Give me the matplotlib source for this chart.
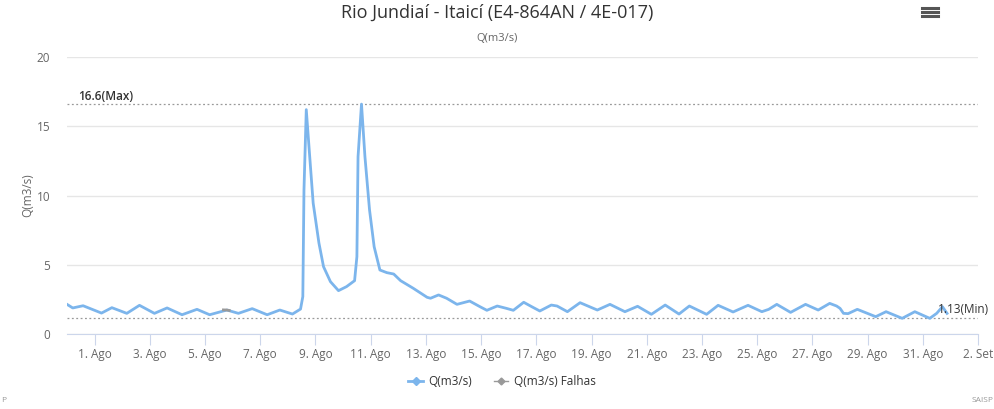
import numpy as np
import pandas as pd
import matplotlib
matplotlib.use("Agg")
import matplotlib.pyplot as plt
import matplotlib.dates as mdates
from matplotlib.lines import Line2D

plt.rcParams['font.family'] = ['Liberation Sans Narrow', 'Open Sans', 'DejaVu Sans']

# Vazão observada (m3/s)
times = [
    "07-31 00", "07-31 05", "07-31 14", "08-01 06", "08-01 15", "08-02 04", "08-02 15",
    "08-03 04", "08-03 15", "08-04 04", "08-04 17", "08-05 04", "08-05 19", "08-06 05",
    "08-06 17", "08-07 06", "08-07 17", "08-08 04", "08-08 11", "08-08 13", "08-08 14",
    "08-08 16", "08-08 19", "08-08 22", "08-09 03", "08-09 07", "08-09 13", "08-09 20",
    "08-10 03", "08-10 10", "08-10 12", "08-10 13", "08-10 16", "08-10 19", "08-10 23",
    "08-11 03", "08-11 08", "08-11 14", "08-11 20", "08-12 02", "08-12 13", "08-13 01",
    "08-13 04", "08-13 11", "08-13 18", "08-14 03", "08-14 14", "08-14 23", "08-15 05",
    "08-15 14", "08-15 22", "08-16 04", "08-16 13", "08-16 20", "08-17 03", "08-17 13",
    "08-17 18", "08-18 03", "08-18 14", "08-19 05", "08-19 16", "08-20 05", "08-20 16",
    "08-21 04", "08-21 16", "08-22 04", "08-22 13", "08-23 04", "08-23 14", "08-24 03",
    "08-24 16", "08-25 04", "08-25 10", "08-25 17", "08-26 05", "08-26 18", "08-27 05",
    "08-27 15", "08-27 21", "08-28 00", "08-28 03", "08-28 07", "08-28 15", "08-29 07",
    "08-29 16", "08-30 06", "08-30 17", "08-31 06", "08-31 12", "08-31 17", "08-31 21",
]
vazao = [
    2.14, 1.88, 2.04, 1.51, 1.90, 1.49, 2.07,
    1.49, 1.88, 1.39, 1.78, 1.39, 1.73, 1.49,
    1.83, 1.39, 1.73, 1.44, 1.80, 2.70, 10.4,
    16.2, 12.8, 9.45, 6.57, 4.86, 3.78, 3.13,
    3.42, 3.85, 5.58, 12.8, 16.6, 12.8, 8.95,
    6.30, 4.62, 4.43, 4.33, 3.85, 3.30, 2.65,
    2.58, 2.82, 2.58, 2.14, 2.38, 1.97, 1.71,
    2.02, 1.85, 1.71, 2.29, 1.97, 1.66, 2.09,
    2.02, 1.61, 2.26, 1.73, 2.14, 1.61, 2.00,
    1.42, 2.09, 1.44, 2.02, 1.42, 2.07, 1.59,
    2.07, 1.61, 1.78, 2.14, 1.56, 2.14, 1.73,
    2.21, 2.02, 1.85, 1.49, 1.47, 1.78, 1.25,
    1.61, 1.13, 1.61, 1.13, 1.49, 1.97, 1.49,
]

# Falhas (dados preenchidos)
falhas_times = ["08-05 16", "08-05 19", "08-05 21"]
falhas_vazao = [1.74, 1.73, 1.70]

q_max = 16.6
q_min = 1.13

tick_labels = ["1. Ago", "3. Ago", "5. Ago", "7. Ago", "9. Ago", "11. Ago", "13. Ago",
               "15. Ago", "17. Ago", "19. Ago", "21. Ago", "23. Ago", "25. Ago",
               "27. Ago", "29. Ago", "31. Ago", "2. Set"]


def to_dt(labels):
    return pd.to_datetime(["2023-" + s + ":00" for s in labels], format="%Y-%m-%d %H:%M")


t = to_dt(times)
tf = to_dt(falhas_times)

fig = plt.figure(figsize=(9.94, 4.09), dpi=100)
ax = fig.add_axes([0.0674, 0.1834, 0.9166, 0.6772])

blue = "#7cb5ec"
ax.plot(t, vazao, color=blue, lw=2, solid_joinstyle="round", zorder=3)
ax.plot(tf, falhas_vazao, color="#999999", lw=2, zorder=4)

x0 = pd.Timestamp("2023-07-31")
x1 = pd.Timestamp("2023-09-02")
ax.set_xlim(x0, x1)
ax.set_ylim(0, 20)

# linhas de máximo / mínimo
ax.axhline(q_max, color="#999999", lw=0.9, ls=(0, (1.5, 2)), zorder=2)
ax.axhline(q_min, color="#999999", lw=0.9, ls=(0, (1.5, 2)), zorder=2)
ax.text(0.012, q_max + 0.05, f"{q_max}(Max)", transform=ax.get_yaxis_transform(),
        fontsize=8.5, color="#333333", va="bottom", ha="left", fontweight="semibold")
ax.text(1.012, q_min + 0.2, f"{q_min:.2f}(Min)", transform=ax.get_yaxis_transform(),
        fontsize=8.5, color="#333333", va="bottom", ha="right", zorder=5)

# grade e eixos
ax.set_yticks([0, 5, 10, 15, 20])
ax.yaxis.grid(True, color="#e6e6e6", lw=1)
ax.set_axisbelow(True)
for side in ["top", "right", "left"]:
    ax.spines[side].set_visible(False)
ax.spines["bottom"].set_color("#ccd6eb")
ax.tick_params(axis="y", length=0, labelsize=8.5, labelcolor="#666666", pad=12)

xticks = pd.date_range("2023-08-01", "2023-09-02", freq="2D")
ax.set_xticks(xticks)
ax.set_xticklabels(tick_labels)
ax.tick_params(axis="x", length=8, color="#ccd6eb", labelsize=8.5, labelcolor="#666666", pad=2)

ax.set_ylabel("Q(m3/s)", fontsize=8.5, color="#666666", labelpad=2)

# títulos
fig.text(0.5, 0.968, "Rio Jundiaí - Itaicí (E4-864AN / 4E-017)", ha="center", va="center",
         fontsize=13, color="#333333")
fig.text(0.5, 0.907, "Q(m3/s)", ha="center", va="center", fontsize=8, color="#666666")

# legenda
handles = [
    Line2D([], [], color=blue, lw=2, marker="D", markersize=4.5),
    Line2D([], [], color="#999999", lw=1, marker="D", markersize=3.5),
]
fig.legend(handles, ["Q(m3/s)", "Q(m3/s) Falhas"], loc="center", bbox_to_anchor=(0.505, 0.068),
           ncol=2, frameon=False, fontsize=8.5, handlelength=1.2, handletextpad=0.5,
           columnspacing=1.8, labelcolor="#333333")

# créditos
fig.text(0.999, 0.02, "SAISP", ha="right", va="center", fontsize=6, color="#999999")
fig.text(0.001, 0.02, "P", ha="left", va="center", fontsize=6, color="#999999")

# ícone do menu
for yy in (0.960, 0.970, 0.980):
    fig.add_artist(Line2D([0.928, 0.944], [yy, yy], color="#555555", lw=2.2))

fig.savefig("out.png", dpi=100, facecolor="white")
